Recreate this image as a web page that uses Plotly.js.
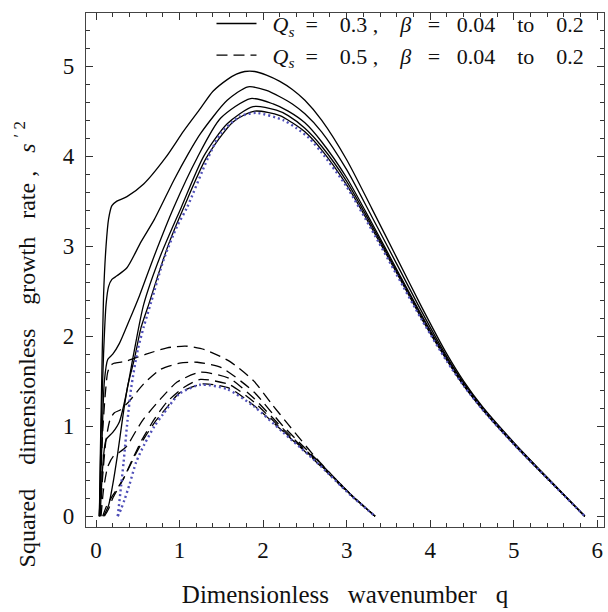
<!DOCTYPE html>
<html>
<head>
<meta charset="utf-8">
<script src="https://cdn.plot.ly/plotly-3.0.1.min.js"></script>
<style>html,body{margin:0;padding:0;background:#fff;}#chart{width:608px;height:612px;}</style>
</head>
<body>
<div id="chart"></div>
<script>
// ---- Data (q = dimensionless wavenumber, s2 = squared growth rate) ----
// Q_s = 0.3 family (solid), beta = 0.2 ... 0.04 (top to bottom)
var s1_q = [0.04,0.05,0.065,0.09,0.12,0.15,0.19,0.25,0.37,0.57,0.83,1.05,1.25,1.40,1.57,1.68,1.78,1.90,2.04,2.2,2.35,2.5,2.7,3.0,3.3,3.6,3.9,4.2,4.4,4.63,5.0,5.4,5.85];
var s1_v = [0,0.6,1.36,2.45,3.0,3.3,3.45,3.50,3.55,3.69,3.98,4.28,4.53,4.72,4.85,4.91,4.94,4.94,4.90,4.83,4.74,4.62,4.40,3.96,3.42,2.87,2.32,1.80,1.50,1.21,0.82,0.43,0];
var s2_q = [0.04,0.06,0.09,0.12,0.15,0.19,0.25,0.37,0.54,0.70,0.93,1.10,1.25,1.57,1.82,2.04,2.2,2.35,2.5,2.7,3.0,3.3,3.6,3.9,4.2,4.4,4.63,5.0,5.4,5.85];
var s2_v = [0,0.9,1.8,2.35,2.55,2.63,2.67,2.76,3.05,3.30,3.73,4.02,4.25,4.62,4.77,4.73,4.66,4.58,4.47,4.27,3.85,3.33,2.80,2.27,1.77,1.48,1.20,0.81,0.43,0];
var s3_q = [0.04,0.07,0.10,0.14,0.20,0.28,0.40,0.52,0.70,0.93,1.21,1.49,1.85,2.12,2.3,2.5,2.7,3.0,3.3,3.6,3.9,4.2,4.4,4.63,5.0,5.4,5.85];
var s3_v = [0,0.8,1.5,1.74,1.80,1.92,2.18,2.45,2.90,3.43,3.98,4.42,4.64,4.58,4.50,4.37,4.16,3.76,3.26,2.74,2.23,1.75,1.47,1.19,0.81,0.42,0];
var s4_q = [0.05,0.08,0.12,0.20,0.28,0.36,0.45,0.57,0.77,1.02,1.29,1.57,1.88,2.16,2.3,2.5,2.7,3.0,3.3,3.6,3.9,4.2,4.4,4.63,5.0,5.4,5.85];
var s4_v = [0,0.55,0.85,0.93,1.05,1.35,1.80,2.35,2.89,3.43,4.00,4.36,4.55,4.51,4.45,4.31,4.11,3.72,3.23,2.72,2.21,1.74,1.46,1.19,0.80,0.42,0];
var s5_q = [0.09,0.15,0.20,0.26,0.32,0.38,0.46,0.54,0.63,0.75,0.88,1.05,1.32,1.64,1.90,2.20,2.35,2.5,2.7,3.0,3.3,3.6,3.9,4.2,4.4,4.63,5.0,5.4,5.85];
var s5_v = [0,0.12,0.35,0.70,1.10,1.45,1.75,2.10,2.35,2.70,3.05,3.43,3.98,4.38,4.50,4.45,4.37,4.27,4.07,3.68,3.20,2.70,2.19,1.73,1.45,1.18,0.80,0.42,0];
var sb_q = [0.26,0.29,0.33,0.37,0.42,0.50,0.57,0.66,0.81,0.97,1.09,1.34,1.49,1.72,1.92,2.24,2.4,2.55,2.7,3.0,3.3,3.6,3.9,4.2,4.4,4.63,5.0,5.4,5.85];
var sb_v = [0,0.25,0.6,1.0,1.42,1.85,2.1,2.38,2.85,3.22,3.43,3.98,4.25,4.44,4.48,4.40,4.31,4.20,4.04,3.66,3.18,2.68,2.18,1.72,1.45,1.18,0.80,0.42,0];

// Q_s = 0.5 family (dashed)
var d1_q = [0.04,0.06,0.08,0.11,0.14,0.18,0.22,0.35,0.6,0.85,1.07,1.30,1.60,1.89,2.10,2.30,2.64,3.04,3.34];
var d1_v = [0,0.5,0.95,1.35,1.6,1.68,1.70,1.72,1.80,1.87,1.89,1.85,1.72,1.50,1.25,1.02,0.64,0.25,0];
var d2_q = [0.05,0.08,0.12,0.17,0.22,0.29,0.40,0.57,0.77,1.0,1.21,1.5,1.89,2.24,2.64,3.04,3.34];
var d2_v = [0,0.45,0.85,1.08,1.15,1.18,1.28,1.47,1.63,1.70,1.71,1.65,1.38,1.00,0.63,0.25,0];
var d3_q = [0.06,0.09,0.14,0.21,0.28,0.37,0.48,0.57,0.77,0.97,1.25,1.6,1.89,2.24,2.64,3.04,3.34];
var d3_v = [0,0.3,0.55,0.67,0.71,0.78,0.95,1.08,1.30,1.49,1.60,1.53,1.31,0.97,0.62,0.25,0];
var d4_q = [0.08,0.12,0.18,0.25,0.33,0.43,0.55,0.70,0.85,1.05,1.25,1.6,1.89,2.24,2.64,3.04,3.34];
var d4_v = [0,0.1,0.2,0.3,0.42,0.62,0.85,1.08,1.27,1.43,1.52,1.46,1.27,0.95,0.61,0.25,0];
var d5_q = [0.10,0.15,0.20,0.26,0.33,0.40,0.48,0.58,0.70,0.84,1.0,1.28,1.6,1.89,2.24,2.64,3.04,3.34];
var d5_v = [0,0.08,0.2,0.3,0.42,0.55,0.70,0.87,1.04,1.20,1.37,1.47,1.42,1.23,0.94,0.60,0.24,0];
var db_q = [0.26,0.30,0.34,0.40,0.48,0.58,0.70,0.80,1.0,1.25,1.57,1.89,2.24,2.64,3.04,3.34];
var db_v = [0,0.08,0.18,0.35,0.60,0.80,1.0,1.13,1.36,1.46,1.41,1.22,0.93,0.60,0.24,0];

var NB = '\u00a0';
function sp(n){ return NB.repeat(n); }
function legendText(qs){
  return sp(2) + '<i>Q</i><sub><i>s</i></sub>' + sp(2) + '=' + sp(4) + qs + sp(1) + ',' + sp(4) + '<i>β</i>' + sp(3) + '=' + sp(3) + '0.04' + sp(4) + 'to' + sp(4) + '0.2';
}
var legendSolid = legendText('0.3');
var legendDash  = legendText('0.5');
var xTitle = 'Dimensionless' + sp(3) + 'wavenumber' + sp(3) + 'q';
var yTitle = 'Squared' + sp(4) + 'dimensionless' + sp(4) + 'growth' + sp(3) + 'rate' + sp(1) + ',' + sp(3) + '<i>s</i>' + sp(1) + '<sup>\u2032' + sp(1) + '2</sup>';

var SOLID = {color:'#000', width:1.3, shape:'spline', smoothing:0.7};
var DASH = {color:'#000', width:1.3, dash:'11px,6px', shape:'spline', smoothing:0.6};
var DOT = {color:'rgb(80,80,185)', width:2.4, dash:'2px,3px', shape:'spline', smoothing:0.7};

function tr(x, y, line, name, show) {
  return {x:x, y:y, type:'scatter', mode:'lines', line:line, name:name||' ', showlegend:!!show, hoverinfo:'skip'};
}

var data = [
  tr(s1_q, s1_v, SOLID, legendSolid, true),
  tr(d1_q, d1_v, DASH, legendDash, true),
  tr(s2_q, s2_v, SOLID), tr(s3_q, s3_v, SOLID), tr(s4_q, s4_v, SOLID), tr(s5_q, s5_v, SOLID),
  tr(d2_q, d2_v, DASH), tr(d3_q, d3_v, DASH), tr(d4_q, d4_v, DASH), tr(d5_q, d5_v, DASH),
  tr(sb_q, sb_v, DOT), tr(db_q, db_v, DOT)
];

var FONT = '"Liberation Serif", "Times New Roman", Times, serif';
var axisCommon = {
  showline:true, mirror:'allticks', linecolor:'#444', linewidth:1.2,
  ticks:'inside', ticklen:7, tickwidth:1, tickcolor:'#333',
  showgrid:false, zeroline:false,
  tickfont:{family:FONT, size:23, color:'#111'},
  tickmode:'linear', tick0:0, dtick:1
};

var layout = {
  width:608, height:612,
  margin:{l:86, r:4, t:3, b:85},
  paper_bgcolor:'#fff', plot_bgcolor:'#fff',
  font:{family:FONT, size:23, color:'#111'},
  xaxis: Object.assign({}, axisCommon, {
    range:[-0.12, 6.08],
    minor:{dtick:0.2, tick0:0, ticks:'inside', ticklen:4, tickcolor:'#333'},
    ticklabelstandoff:2,
    title:{text:xTitle, font:{family:FONT, size:25, color:'#111'}, standoff:23}
  }),
  yaxis: Object.assign({}, axisCommon, {
    range:[-0.12, 5.59],
    minor:{dtick:0.2, tick0:0, ticks:'inside', ticklen:4, tickcolor:'#333'},
    ticklabelstandoff:6
  }),
  annotations:[{
    text:yTitle, textangle:-90, showarrow:false,
    xref:'paper', yref:'paper', x:-0.118, y:0.355, xanchor:'center', yanchor:'middle',
    font:{family:FONT, size:24, color:'#111'}
  }],
  legend:{x:0.972, xanchor:'right', y:1.02, yanchor:'top', bgcolor:'rgba(0,0,0,0)',
          font:{family:FONT, size:22, color:'#111'}, itemwidth:40, tracegroupgap:0},
  showlegend:true
};

Plotly.newPlot('chart', data, layout, {displayModeBar:false, staticPlot:true});
</script>
</body>
</html>
